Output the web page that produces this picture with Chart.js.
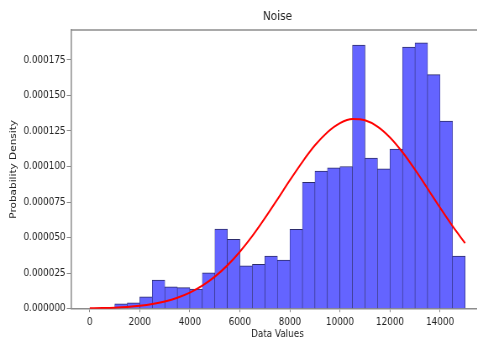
<!DOCTYPE html>
<html lang="en">
<head>
    <meta charset="UTF-8">
    <title>Noise</title>
    <script src="https://cdn.jsdelivr.net/npm/chart.js"></script>
    <style>
        html, body { margin: 0; padding: 0; background: #fff; overflow: hidden; }
        body { width: 477px; height: 341px; }
        /* squeeze the drawing sideways a little, like the saved figure */
        .wrap { transform: scaleX(0.84); transform-origin: 0 0; width: 582px; height: 341px; }
    </style>
</head>
<body>

<div class="wrap">
    <canvas id="noiseChart" width="582" height="341"></canvas>
</div>

<script>
    // histogram bins (500 wide), given by their centres
    const binCenters = [1250, 1750, 2250, 2750, 3250, 3750, 4250, 4750, 5250, 5750,
                        6250, 6750, 7250, 7750, 8250, 8750, 9250, 9750, 10250, 10750,
                        11250, 11750, 12250, 12750, 13250, 13750, 14250, 14750];
    const binDensity = [3.5e-6, 4.2e-6, 8.4e-6, 20.2e-6, 15.4e-6, 14.8e-6, 13.8e-6, 25.3e-6, 56.0e-6, 48.7e-6,
                        30.2e-6, 31.2e-6, 37.0e-6, 34.2e-6, 55.8e-6, 88.8e-6, 96.7e-6, 99.0e-6, 100.0e-6, 185.4e-6,
                        106.0e-6, 98.3e-6, 112.2e-6, 184.0e-6, 187.0e-6, 164.6e-6, 132.0e-6, 37.0e-6];

    // fitted normal curve
    const curveX = [0, 500, 1000, 1500, 2000, 2500, 3000, 3500, 4000, 4500, 5000, 5500, 6000, 6500, 7000, 7500,
                    8000, 8500, 9000, 9500, 10000, 10500, 11000, 11500, 12000, 12500, 13000, 13500, 14000, 14500, 15000];
    const curveY = [0.24e-6, 0.43e-6, 0.74e-6, 1.25e-6, 2.05e-6, 3.28e-6, 5.10e-6, 7.72e-6, 11.34e-6, 16.22e-6,
                    22.53e-6, 30.46e-6, 40.05e-6, 51.18e-6, 63.63e-6, 76.92e-6, 90.41e-6, 103.3e-6, 114.9e-6, 124.1e-6,
                    130.5e-6, 133.4e-6, 132.5e-6, 128.1e-6, 120.4e-6, 110.0e-6, 97.76e-6, 84.49e-6, 71.0e-6, 58.02e-6, 46.1e-6];

    const xTicks = [0, 2000, 4000, 6000, 8000, 10000, 12000, 14000];
    const yTicks = [0, 0.000025, 0.00005, 0.000075, 0.0001, 0.000125, 0.00015, 0.000175];

    const FONT = 'DejaVu Sans';
    const SPINE = '#8c8c8c';

    // title above the plot and the top spine
    const framePlugin = {
        id: 'frame',
        afterDraw(chart) {
            const { ctx, chartArea: a } = chart;
            ctx.save();
            ctx.strokeStyle = SPINE;
            ctx.lineWidth = 1.5;
            ctx.beginPath();
            ctx.moveTo(a.left, a.top);
            ctx.lineTo(a.right, a.top);
            ctx.stroke();
            ctx.fillStyle = '#222';
            ctx.font = '12.5px "' + FONT + '"';
            ctx.textAlign = 'center';
            ctx.textBaseline = 'middle';
            ctx.fillText('Noise', (a.left + a.right) / 2, 17);
            ctx.restore();
        }
    };

    function initializeChart() {
        let ctx = document.getElementById('noiseChart').getContext('2d');
        new Chart(ctx, {
            type: 'bar',
            data: {
                datasets: [{
                    type: 'line',
                    data: curveX.map((x, i) => ({ x: x, y: curveY[i] })),
                    borderColor: 'red',
                    borderWidth: 2,
                    pointRadius: 0,
                    cubicInterpolationMode: 'monotone',
                    order: 0
                }, {
                    type: 'bar',
                    data: binCenters.map((x, i) => ({ x: x, y: binDensity[i] })),
                    backgroundColor: '#6464ff',
                    borderColor: '#2b2b6b',
                    borderWidth: { left: 0.6, right: 0.6, top: 1, bottom: 0 },
                    barPercentage: 1,
                    categoryPercentage: 1,
                    order: 1
                }]
            },
            options: {
                responsive: false,
                animation: false,
                layout: { padding: { top: 30, right: 6, left: 0, bottom: 0 } },
                plugins: {
                    legend: { display: false },
                    tooltip: { enabled: false },
                    title: { display: false }
                },
                scales: {
                    x: {
                        type: 'linear',
                        min: -750,
                        max: 15750,
                        offset: false,
                        afterBuildTicks: axis => { axis.ticks = xTicks.map(v => ({ value: v })); },
                        afterFit: axis => { axis.height = 32.3; },
                        grid: { offset: false, drawOnChartArea: false, drawTicks: true, tickLength: 3.5, color: SPINE },
                        border: { display: true, color: SPINE, width: 1.5 },
                        ticks: {
                            maxRotation: 0,
                            padding: 3.5,
                            color: '#222',
                            font: { family: FONT, size: 10.5 },
                            callback: v => String(v)
                        },
                        title: {
                            display: true,
                            text: 'Data Values',
                            color: '#222',
                            font: { family: FONT, size: 10.5 },
                            padding: { top: 0, bottom: 0.7 }
                        }
                    },
                    y: {
                        min: 0,
                        max: 0.000196,
                        afterBuildTicks: axis => { axis.ticks = yTicks.map(v => ({ value: v })); },
                        afterFit: axis => { axis.width = 84.5; },
                        grid: { drawOnChartArea: false, drawTicks: true, tickLength: 5, color: SPINE },
                        border: { display: true, color: SPINE, width: 1.5 },
                        ticks: {
                            padding: 1.5,
                            color: '#222',
                            font: { family: FONT, size: 10.5 },
                            callback: v => v.toFixed(6)
                        },
                        title: {
                            display: true,
                            text: 'Probability Density',
                            color: '#222',
                            font: { family: FONT, size: 10.5 },
                            padding: { top: 10.4, bottom: 0 }
                        }
                    }
                }
            },
            plugins: [framePlugin]
        });
    }

    window.onload = initializeChart;
</script>

</body>
</html>
